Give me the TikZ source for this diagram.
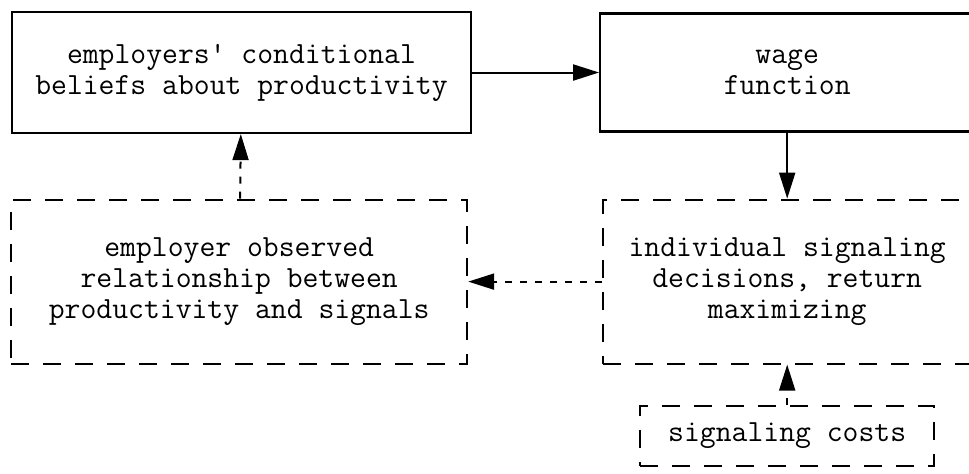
\documentclass[tikz,border=0pt]{standalone}
\usepackage{fontspec}
\usetikzlibrary{arrows.meta, positioning}

\begin{document}
\begin{tikzpicture}[node distance=33pt,
  every node/.style={draw, line width=1.1pt, inner sep=0pt, align=center,
    font=\ttfamily\fontsize{15.4pt}{15.5pt}\selectfont},
  dashbox/.style={line width=1pt, dash pattern=on 9pt off 7pt},
  link/.style={line width=1pt, -{Triangle[length=13pt, width=8pt]}},
  dotlink/.style={link, dash pattern=on 3.5pt off 4pt}]
\useasboundingbox (0,0) rectangle (484.5pt,-236.5pt);
\node (beliefs) [minimum width=229.5pt, minimum height=60.5pt] at (120.75pt,-36.25pt)
  {employers' conditional\\beliefs about productivity};
\node (wage) [minimum width=187pt, minimum height=59pt, right=63.5pt of beliefs]
  {wage\\function};
\node (decisions) [dashbox, minimum width=184pt, minimum height=82pt, below=33pt of wage]
  {individual signaling\\decisions, return\\maximizing};
\node (observed) [dashbox, minimum width=228pt, minimum height=82pt, left=67pt of decisions]
  {employer observed\\relationship between\\productivity and signals};
\node (costs) [dashbox, minimum width=147pt, minimum height=30pt, below=20pt of decisions]
  {signaling costs};
\draw[link] (beliefs) -- (wage);
\draw[link] (wage) -- (decisions);
\draw[dotlink] (decisions) -- (observed);
\draw[dotlink] (observed) -- (beliefs);
\draw[dotlink] (costs) -- (decisions);
\end{tikzpicture}
\end{document}
